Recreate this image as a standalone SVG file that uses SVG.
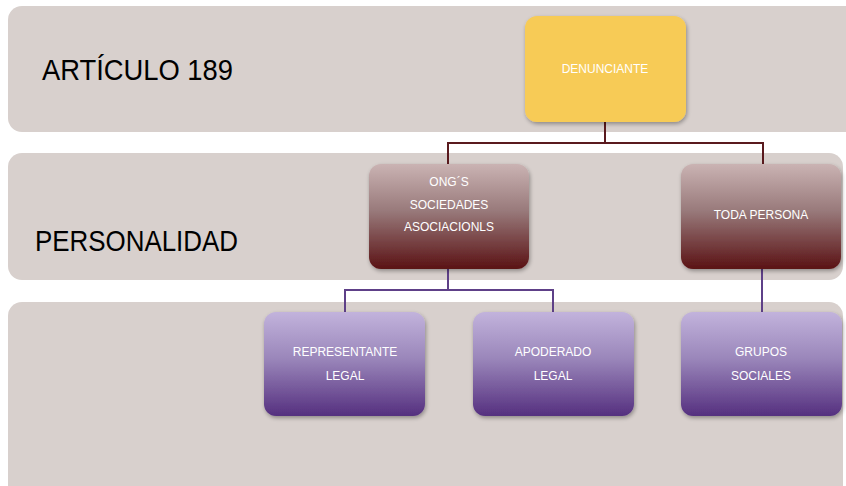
<svg xmlns="http://www.w3.org/2000/svg" width="846" height="486" viewBox="0 0 846 486">
<defs>
<linearGradient id="gBrown" x1="0" y1="0" x2="0" y2="1">
<stop offset="0" stop-color="#CAB3B3"/>
<stop offset="0.45" stop-color="#98797A"/>
<stop offset="1" stop-color="#5A1214"/>
</linearGradient>
<linearGradient id="gPurple" x1="0" y1="0" x2="0" y2="1">
<stop offset="0" stop-color="#C2B3DC"/>
<stop offset="0.45" stop-color="#9A86BA"/>
<stop offset="1" stop-color="#55307F"/>
</linearGradient>
<filter id="sh" x="-10%" y="-10%" width="125%" height="130%">
<feGaussianBlur in="SourceAlpha" stdDeviation="2"/>
<feOffset dx="1" dy="2" result="b"/>
<feComponentTransfer><feFuncA type="linear" slope="0.35"/></feComponentTransfer>
<feMerge><feMergeNode/><feMergeNode in="SourceGraphic"/></feMerge>
</filter>
</defs>
<style>
.band{fill:#D8D0CD}
.big{font-family:"Liberation Sans",Arial,sans-serif;font-size:29px;fill:#000}
.lbl{font-family:"Liberation Sans",Arial,sans-serif;font-size:12px;fill:#fff;text-anchor:middle;dominant-baseline:central}
.c1{fill:none;stroke:#5A1A1E;stroke-width:2}
.c2{fill:none;stroke:#5E4088;stroke-width:2}
</style>
<rect width="846" height="486" fill="#fff"/>
<g id="bands">
<rect class="band" x="8" y="6" width="860" height="126" rx="14"/>
<rect class="band" x="8" y="153" width="835" height="127" rx="14"/>
<rect class="band" x="8" y="302" width="835" height="200" rx="14"/>
<text class="big" x="42" y="80" textLength="191" lengthAdjust="spacingAndGlyphs">ARTÍCULO 189</text>
<text class="big" x="35" y="251" textLength="203" lengthAdjust="spacingAndGlyphs">PERSONALIDAD</text>
</g>
<g id="connectors">
<path class="c1" d="M605 122V143M448 165V143H763V165"/>
<path class="c2" d="M448 269V290M345 312V290H553V312"/>
<path class="c2" d="M762 269V312"/>
</g>
<g id="denunciante">
<rect x="525" y="16" width="161" height="106" rx="12" fill="#F7CB57" filter="url(#sh)"/>
<text class="lbl" x="605" y="69">DENUNCIANTE</text>
</g>
<g id="ong">
<rect x="369" y="164" width="160" height="105" rx="12" fill="url(#gBrown)" filter="url(#sh)"/>
<text class="lbl" x="449" y="182">ONG´S</text>
<text class="lbl" x="449" y="205">SOCIEDADES</text>
<text class="lbl" x="449" y="227">ASOCIACIONLS</text>
</g>
<g id="toda">
<rect x="681" y="164" width="160" height="105" rx="12" fill="url(#gBrown)" filter="url(#sh)"/>
<text class="lbl" x="761" y="215">TODA PERSONA</text>
</g>
<g id="representante">
<rect x="264" y="312" width="161" height="104" rx="12" fill="url(#gPurple)" filter="url(#sh)"/>
<text class="lbl" x="345" y="352">REPRESENTANTE</text>
<text class="lbl" x="345" y="376">LEGAL</text>
</g>
<g id="apoderado">
<rect x="473" y="312" width="161" height="104" rx="12" fill="url(#gPurple)" filter="url(#sh)"/>
<text class="lbl" x="553" y="352">APODERADO</text>
<text class="lbl" x="553" y="376">LEGAL</text>
</g>
<g id="grupos">
<rect x="681" y="312" width="161" height="104" rx="12" fill="url(#gPurple)" filter="url(#sh)"/>
<text class="lbl" x="761" y="352">GRUPOS</text>
<text class="lbl" x="761" y="376">SOCIALES</text>
</g>
</svg>
